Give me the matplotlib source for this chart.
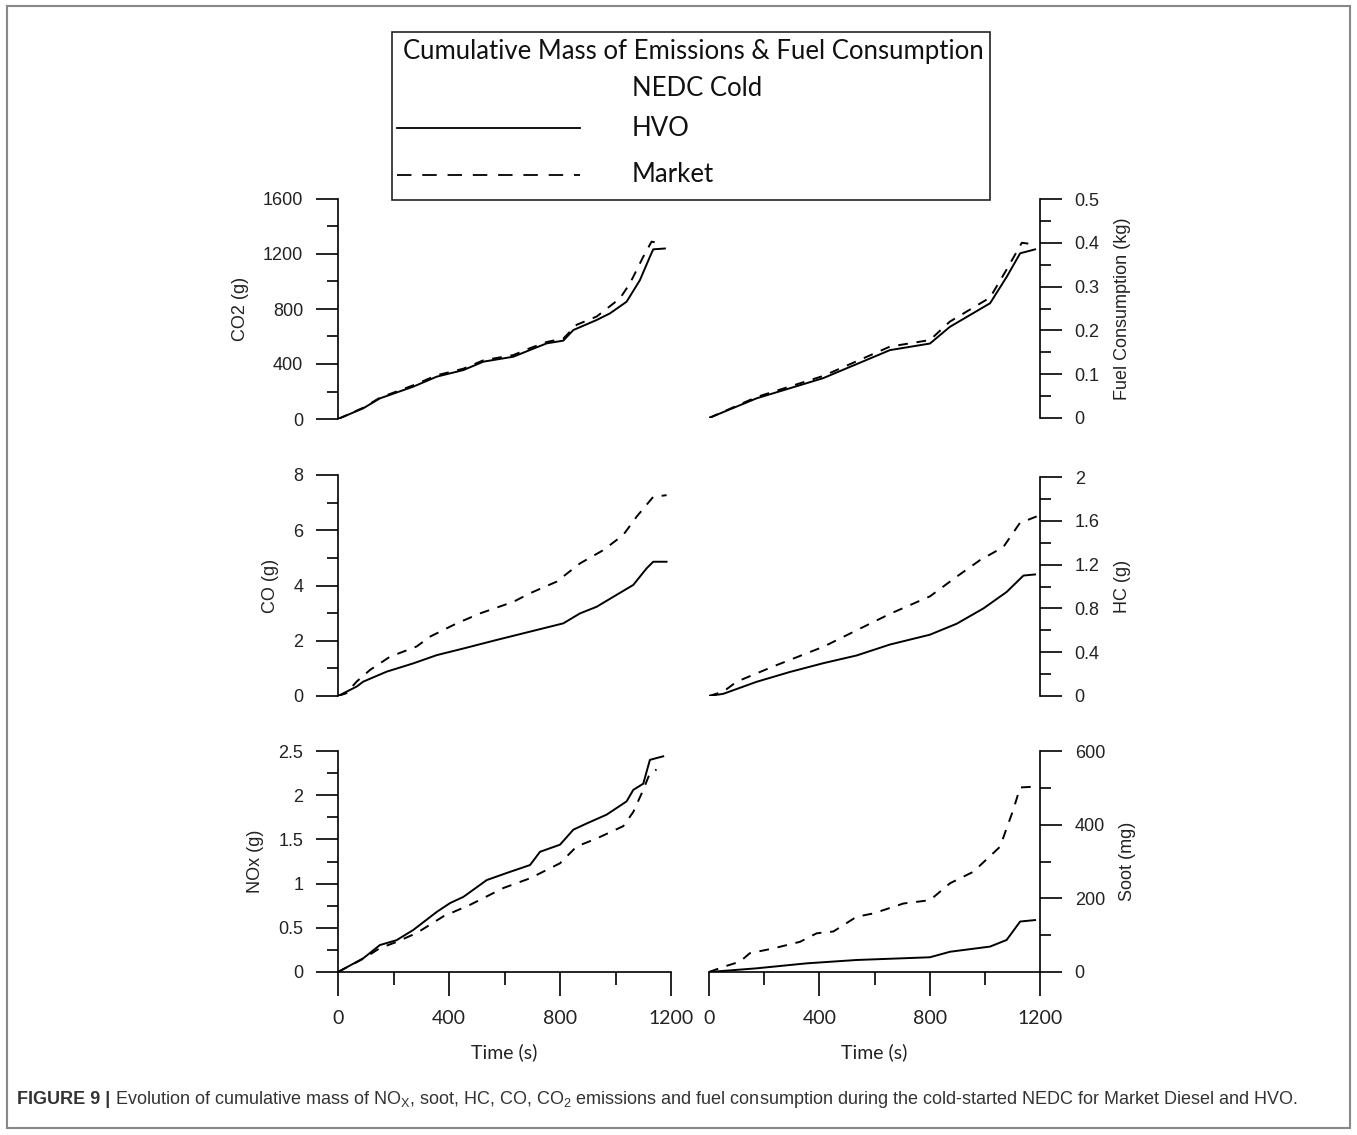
import matplotlib.pyplot as plt
from matplotlib.patches import Rectangle
from matplotlib.lines import Line2D
from matplotlib.ticker import MultipleLocator

# data (time in s)
co2_hvo_t = [0, 91, 151, 271, 356, 452, 524, 632, 692, 752, 812, 848, 932, 980, 1040, 1088, 1124, 1136, 1178]
co2_hvo = [0, 78, 150, 235, 308, 356, 417, 453, 502, 550, 570, 647, 720, 768, 853, 1010, 1180, 1234, 1240]
co2_mkt_t = [0, 91, 151, 271, 356, 452, 524, 632, 692, 752, 812, 860, 932, 1016, 1052, 1100, 1130, 1148, 1160]
co2_mkt = [0, 82, 155, 245, 318, 366, 427, 465, 515, 560, 585, 685, 745, 877, 986, 1180, 1290, 1282, 1282]

fuel_hvo_t = [0, 173, 414, 656, 801, 873, 1019, 1080, 1128, 1182]
fuel_hvo = [0, 0.045, 0.091, 0.155, 0.17, 0.208, 0.262, 0.323, 0.376, 0.385]
fuel_mkt_t = [0, 173, 414, 656, 801, 873, 1019, 1080, 1134, 1160]
fuel_mkt = [0, 0.048, 0.096, 0.163, 0.178, 0.220, 0.275, 0.34, 0.40, 0.398]

co_hvo_t = [0, 67, 91, 175, 271, 356, 452, 572, 692, 812, 872, 932, 992, 1064, 1112, 1136, 1184]
co_hvo = [0, 0.34, 0.52, 0.88, 1.18, 1.48, 1.72, 2.03, 2.33, 2.63, 2.99, 3.23, 3.59, 4.02, 4.62, 4.86, 4.86]
co_mkt_t = [0, 30, 67, 115, 187, 283, 332, 428, 512, 632, 692, 788, 872, 956, 1028, 1076, 1136, 1184]
co_mkt = [0, 0.1, 0.52, 0.94, 1.42, 1.79, 2.15, 2.63, 2.99, 3.41, 3.72, 4.14, 4.80, 5.28, 5.83, 6.49, 7.21, 7.27]

hc_hvo_t = [0, 52, 173, 294, 415, 535, 656, 801, 898, 995, 1079, 1140, 1182]
hc_hvo = [0, 0.02, 0.13, 0.22, 0.30, 0.37, 0.47, 0.56, 0.66, 0.80, 0.95, 1.10, 1.11]
hc_mkt_t = [0, 52, 100, 233, 415, 535, 656, 801, 898, 982, 1067, 1127, 1188]
hc_mkt = [0, 0.04, 0.13, 0.27, 0.45, 0.60, 0.75, 0.91, 1.09, 1.24, 1.36, 1.58, 1.64]

nox_hvo_t = [0, 91, 151, 211, 271, 356, 404, 452, 536, 608, 692, 728, 800, 848, 896, 968, 1040, 1064, 1100, 1124, 1172]
nox_hvo = [0, 0.155, 0.305, 0.36, 0.475, 0.68, 0.78, 0.85, 1.04, 1.12, 1.21, 1.36, 1.44, 1.61, 1.68, 1.78, 1.93, 2.06, 2.13, 2.40, 2.44]
nox_mkt_t = [0, 91, 151, 211, 283, 380, 476, 596, 692, 800, 860, 932, 1028, 1064, 1100, 1124, 1148]
nox_mkt = [0, 0.15, 0.27, 0.34, 0.44, 0.63, 0.76, 0.95, 1.06, 1.23, 1.42, 1.51, 1.65, 1.81, 2.06, 2.25, 2.29]

soot_hvo_t = [0, 173, 354, 535, 801, 874, 1019, 1079, 1128, 1182]
soot_hvo = [0, 10, 23.5, 32.6, 40, 55, 69, 87, 137, 141]
soot_mkt_t = [0, 52, 112, 148, 233, 330, 390, 451, 535, 596, 705, 801, 874, 958, 1055, 1103, 1128, 1176]
soot_mkt = [0, 14, 28, 51, 64, 82, 105, 110, 150, 159, 186, 195, 241, 272, 340, 440, 501, 503]

co2_ticks = [0, 400, 800, 1200, 1600]
fuel_ticks = [0, 0.1, 0.2, 0.3, 0.4, 0.5]
co_ticks = [0, 2, 4, 6, 8]
hc_ticks = [0, 0.4, 0.8, 1.2, 1.6, 2]
nox_ticks = [0, 0.5, 1, 1.5, 2, 2.5]
soot_ticks = [0, 200, 400, 600]

W, H = 1357, 1135
fig = plt.figure(figsize=(W / 100, H / 100), dpi=100)

def box(x0, y0, x1, y1):
    return [x0 / W, 1 - y1 / H, (x1 - x0) / W, (y1 - y0) / H]

tickfont = 'Liberation Sans'
calfont = 'Lato'
dark = '#222222'

panels = [
    (box(338, 199, 671, 419), 'left', co2_ticks, 200, 'CO2 (g)', False,
     (co2_hvo_t, co2_hvo), (co2_mkt_t, co2_mkt)),
    (box(709, 199, 1040, 418), 'right', fuel_ticks, 0.05, 'Fuel Consumption (kg)', False,
     (fuel_hvo_t, fuel_hvo), (fuel_mkt_t, fuel_mkt)),
    (box(338, 475, 671, 696), 'left', co_ticks, 1, 'CO (g)', False,
     (co_hvo_t, co_hvo), (co_mkt_t, co_mkt)),
    (box(709, 477, 1040, 696), 'right', hc_ticks, 0.2, 'HC (g)', False,
     (hc_hvo_t, hc_hvo), (hc_mkt_t, hc_mkt)),
    (box(338, 751, 671, 972), 'left', nox_ticks, 0.25, 'NOx (g)', True,
     (nox_hvo_t, nox_hvo), (nox_mkt_t, nox_mkt)),
    (box(709, 751, 1040, 972), 'right', soot_ticks, 100, 'Soot (mg)', True,
     (soot_hvo_t, soot_hvo), (soot_mkt_t, soot_mkt)),
]

for pos, side, ticks, minor, label, xaxis, hvo, mkt in panels:
    ax = fig.add_axes(pos)
    ax.set_facecolor('none')
    ax.plot(hvo[0], hvo[1], color='black', lw=1.4)
    ax.plot(mkt[0], mkt[1], color='black', lw=1.4, dashes=(5, 4.5))
    ax.set_xlim(0, 1200)
    for s in ['top', 'left', 'right', 'bottom']:
        ax.spines[s].set_visible(False)
    ax.spines[side].set_visible(True)
    ax.spines[side].set_linewidth(1.2)
    ax.set_yticks(ticks, [f'{v:g}' for v in ticks])
    ax.yaxis.set_minor_locator(MultipleLocator(minor))
    ax.set_ylim(ticks[0], ticks[-1])
    if side == 'right':
        ax.yaxis.tick_right()
        ax.yaxis.set_label_position('right')
    ax.tick_params(axis='y', which='major', direction='out', length=16, width=1.2, pad=9,
                   labelsize=13, labelcolor=dark)
    ax.tick_params(axis='y', which='minor', direction='out', length=8, width=1.2)
    for t in ax.get_yticklabels():
        t.set_fontfamily(tickfont)
    ax.set_ylabel(label, fontsize=13, family=tickfont, color=dark, labelpad=10)
    if xaxis:
        ax.spines['bottom'].set_visible(True)
        ax.spines['bottom'].set_linewidth(1.2)
        ax.xaxis.set_major_locator(MultipleLocator(400))
        ax.xaxis.set_minor_locator(MultipleLocator(200))
        ax.tick_params(axis='x', which='major', direction='out', length=17, width=1.2, pad=10,
                       labelsize=14, labelcolor=dark)
        ax.tick_params(axis='x', which='minor', direction='out', length=9, width=1.2)
        for t in ax.get_xticklabels():
            t.set_fontfamily(calfont)
        ax.set_xlabel('Time (s)', fontsize=14, family=calfont, color=dark, labelpad=12)
    else:
        ax.set_xticks([])
        ax.set_xticks([], minor=True)

# legend box
fig.add_artist(Rectangle((392 / W, 1 - 200 / H), 598 / W, 168 / H, transform=fig.transFigure,
                         fill=False, ec='#222222', lw=1.2))
fig.text(693 / W, 1 - 52 / H, 'Cumulative Mass of Emissions & Fuel Consumption', ha='center', va='center',
         family=calfont, fontsize=18.5, color='#111111')
fig.text(632 / W, 1 - 89 / H, 'NEDC Cold', ha='left', va='center', family=calfont, fontsize=18.5, color='#111111')
fig.add_artist(Line2D([397 / W, 580 / W], [1 - 128 / H, 1 - 128 / H], transform=fig.transFigure,
                      color='black', lw=1.3))
fig.text(632 / W, 1 - 128 / H, 'HVO', ha='left', va='center', family=calfont, fontsize=18.5, color='#111111')
fig.add_artist(Line2D([397 / W, 580 / W], [1 - 175 / H, 1 - 175 / H], transform=fig.transFigure,
                      color='black', lw=1.3, dashes=(8, 6)))
fig.text(632 / W, 1 - 174 / H, 'Market', ha='left', va='center', family=calfont, fontsize=18.5, color='#111111')

# outer frame
fig.add_artist(Rectangle((7 / W, 1 - 1128 / H), 1343 / W, 1122 / H, transform=fig.transFigure,
                         fill=False, ec='#888888', lw=1.5))

# caption
plt.rcParams['mathtext.fontset'] = 'custom'
plt.rcParams['mathtext.rm'] = 'Liberation Sans'
plt.rcParams['mathtext.it'] = 'Liberation Sans'
cap = fig.text(17 / W, 1 - 1100 / H, 'FIGURE 9 | ', ha='left', va='center', family='Liberation Sans',
               fontsize=13, fontweight='bold', color='#333333')
fig.canvas.draw()
fig.add_artist(plt.Annotation(
    'Evolution of cumulative mass of NO$_\\mathrm{X}$, soot, HC, CO, CO$_\\mathrm{2}$ emissions and fuel consumption '
    'during the cold-started NEDC for Market Diesel and HVO.',
    xy=(1, 0.5), xycoords=cap, ha='left', va='center', family='Liberation Sans', fontsize=13, color='#333333'))

fig.savefig('out.png', dpi=100)
